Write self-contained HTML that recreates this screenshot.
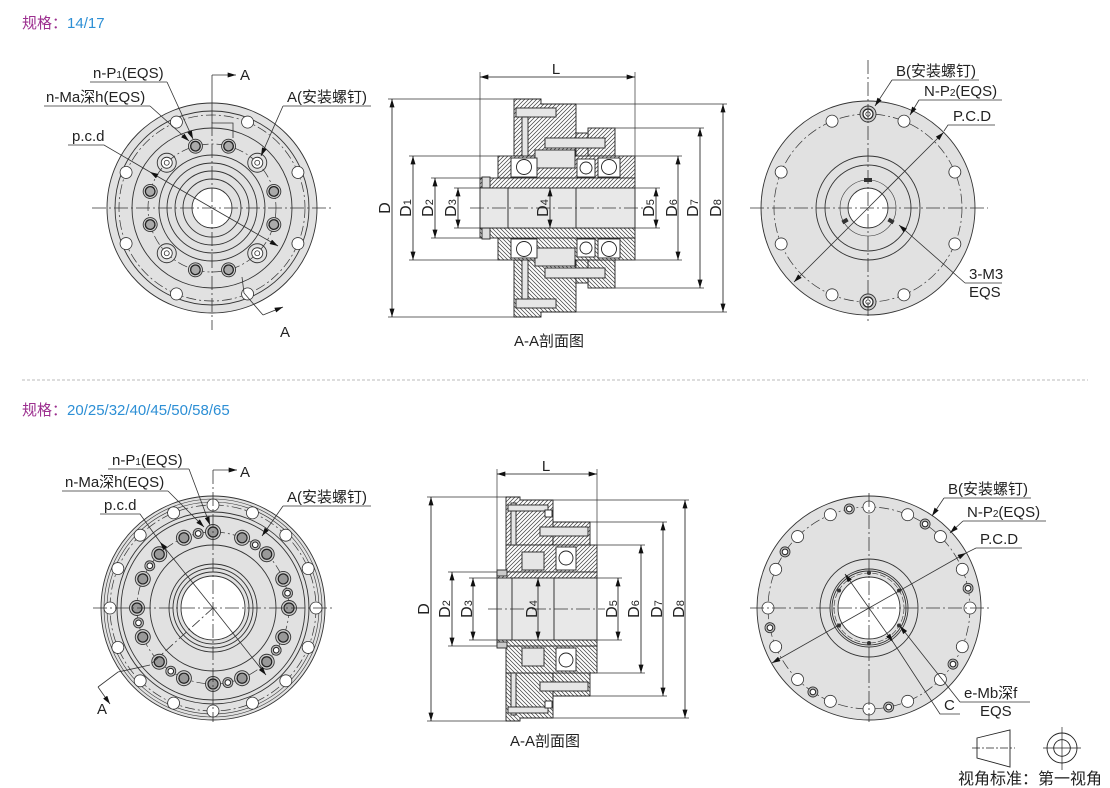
<!DOCTYPE html>
<html><head><meta charset="utf-8">
<style>
html,body{margin:0;padding:0;background:#fff}
svg{display:block}
text{font-family:"Liberation Sans","Noto Sans CJK SC",sans-serif;fill:#222}
</style></head>
<body>
<svg width="1110" height="788" viewBox="0 0 1110 788" xmlns="http://www.w3.org/2000/svg">
<defs>
<pattern id="h" width="4" height="4" patternUnits="userSpaceOnUse"><rect width="4" height="4" fill="#fff"/><path d="M-1,1 L1,-1 M0,4 L4,0 M3,5 L5,3" stroke="#444" stroke-width="0.75"/></pattern>
<marker id="a" viewBox="0 0 10 6" refX="10" refY="3" markerWidth="9" markerHeight="5" markerUnits="userSpaceOnUse" orient="auto-start-reverse"><path d="M0,0 L10,3 L0,6z" fill="#111"/></marker>
<g id="ph"><circle r="6" fill="#fff" stroke="#333" stroke-width="0.8"/></g>
<g id="th"><circle r="7" fill="#d0d0d0" stroke="#333" stroke-width="0.9"/><circle r="4.8" fill="#aaa" stroke="#222" stroke-width="1.3"/></g>
<g id="cs"><circle r="9.5" fill="none" stroke="#333" stroke-width="0.9"/><circle r="5.5" fill="#fff" stroke="#333" stroke-width="0.9"/><circle r="2.5" fill="none" stroke="#333" stroke-width="0.8"/></g>
<g id="bs"><circle r="8" fill="#ccc" stroke="#333" stroke-width="0.9"/><circle r="5" fill="#fff" stroke="#222" stroke-width="1.2"/><circle r="2.2" fill="none" stroke="#333" stroke-width="0.8"/></g>
<g id="sm"><circle r="5" fill="#bbb" stroke="#333" stroke-width="0.9"/><circle r="2.8" fill="#fff" stroke="#222" stroke-width="1"/></g>
<g id="tb"><circle r="7.5" fill="#ccc" stroke="#333" stroke-width="0.9"/><circle r="5" fill="#999" stroke="#222" stroke-width="1.2"/></g>
</defs>

<!-- Titles -->
<text x="22" y="28" font-size="15"><tspan fill="#9c2f8f">规格：</tspan><tspan fill="#2d8fd5">14/17</tspan></text>
<line x1="22" y1="380" x2="1088" y2="380" stroke="#bbb" stroke-width="1" stroke-dasharray="3 2"/>
<text x="22" y="415" font-size="15"><tspan fill="#9c2f8f">规格：</tspan><tspan fill="#2d8fd5">20/25/32/40/45/50/58/65</tspan></text>

<!-- ============ TOP LEFT DISC ============ -->
<g stroke="#333" stroke-width="0.9" fill="none">
<circle cx="212" cy="208" r="105" fill="#e1e1e1"/>
<circle cx="212" cy="208" r="97"/>
<circle cx="212" cy="208" r="93" stroke-dasharray="10 3 2 3" stroke-width="0.7"/>
<circle cx="212" cy="208" r="80"/>
<circle cx="212" cy="208" r="64" stroke-dasharray="10 3 2 3" stroke-width="0.7"/>
<circle cx="212" cy="208" r="53"/>
<circle cx="212" cy="208" r="45"/>
<circle cx="212" cy="208" r="37"/>
<circle cx="212" cy="208" r="29"/>
<circle cx="212" cy="208" r="20" fill="#fff"/>
</g>
<g>
<use href="#ph" transform="rotate(-22.5 212 208) translate(305 208)"/>
<use href="#ph" transform="rotate(-67.5 212 208) translate(305 208)"/>
<use href="#ph" transform="rotate(-112.5 212 208) translate(305 208)"/>
<use href="#ph" transform="rotate(-157.5 212 208) translate(305 208)"/>
<use href="#ph" transform="rotate(-202.5 212 208) translate(305 208)"/>
<use href="#ph" transform="rotate(-247.5 212 208) translate(305 208)"/>
<use href="#ph" transform="rotate(-292.5 212 208) translate(305 208)"/>
<use href="#ph" transform="rotate(-337.5 212 208) translate(305 208)"/>
<use href="#th" transform="rotate(15 212 208) translate(276 208)"/>
<use href="#th" transform="rotate(75 212 208) translate(276 208)"/>
<use href="#th" transform="rotate(105 212 208) translate(276 208)"/>
<use href="#th" transform="rotate(165 212 208) translate(276 208)"/>
<use href="#th" transform="rotate(195 212 208) translate(276 208)"/>
<use href="#th" transform="rotate(255 212 208) translate(276 208)"/>
<use href="#th" transform="rotate(285 212 208) translate(276 208)"/>
<use href="#th" transform="rotate(345 212 208) translate(276 208)"/>
<use href="#cs" transform="rotate(45 212 208) translate(276 208)"/>
<use href="#cs" transform="rotate(135 212 208) translate(276 208)"/>
<use href="#cs" transform="rotate(225 212 208) translate(276 208)"/>
<use href="#cs" transform="rotate(315 212 208) translate(276 208)"/>
</g>
<g stroke="#333" stroke-width="0.8" fill="none">
<line x1="92" y1="208" x2="333" y2="208" stroke-dasharray="14 3 2 3"/>
<line x1="212" y1="122" x2="212" y2="330" stroke-dasharray="14 3 2 3"/>
<polyline points="212,75 212,123 233,123 233,138"/>
<line x1="212" y1="75" x2="236" y2="75" marker-end="url(#a)"/>
<polyline points="242,277 244,293 263,315" />
<line x1="263" y1="315" x2="283" y2="307" marker-end="url(#a)"/>
<polyline points="90,82 167,82"/>
<line x1="167" y1="82" x2="193" y2="139" marker-end="url(#a)"/>
<polyline points="44,106 150,106"/>
<line x1="150" y1="106" x2="189" y2="141" marker-end="url(#a)"/>
<polyline points="68,145 104,145 150,172"/>
<line x1="212" y1="208" x2="150" y2="172" marker-end="url(#a)"/>
<line x1="212" y1="208" x2="278" y2="246" marker-end="url(#a)"/>
<polyline points="371,106 283,106"/>
<line x1="283" y1="106" x2="261" y2="156" marker-end="url(#a)"/>
</g>
<text x="93" y="78" font-size="15">n-P<tspan font-size="10">1</tspan>(EQS)</text>
<text x="46" y="102" font-size="15">n-Ma深h(EQS)</text>
<text x="72" y="141" font-size="15">p.c.d</text>
<text x="287" y="102" font-size="15">A(安装螺钉)</text>
<text x="240" y="80" font-size="15">A</text>
<text x="280" y="337" font-size="15">A</text>

<!-- ============ TOP SECTION ============ -->
<g stroke="#222" stroke-width="0.9">
<g id="secTopHalf">
<path d="M514,99 H541 V104 H576 V156 H514 Z" fill="url(#h)"/>
<rect x="588" y="128" width="27" height="28" fill="url(#h)"/>
<rect x="576" y="133" width="12" height="23" fill="url(#h)"/>
<rect x="498" y="156" width="137" height="22" fill="url(#h)"/>
<rect x="480" y="178" width="155" height="10" fill="url(#h)"/>
<rect x="516" y="108" width="40" height="9" fill="#e6e6e6"/>
<rect x="522" y="117" width="6" height="39" fill="#e6e6e6"/>
<rect x="545" y="138" width="60" height="10" fill="#e6e6e6"/>
<rect x="535" y="150" width="40" height="18" fill="#e6e6e6"/>
<rect x="511" y="158" width="26" height="19" fill="#fff"/>
<circle cx="524" cy="167" r="7.5" fill="#fff"/>
<rect x="577" y="159" width="18" height="18" fill="#fff"/>
<circle cx="586" cy="168" r="6" fill="#fff"/>
<rect x="598" y="158" width="22" height="19" fill="#fff"/>
<circle cx="609" cy="167" r="7.5" fill="#fff"/>
<rect x="482" y="177" width="8" height="11" fill="#ddd"/>
</g>
<use href="#secTopHalf" transform="matrix(1 0 0 -1 0 416)"/>
<rect x="480" y="188" width="155" height="40" fill="#e8e8e8"/>
<line x1="508" y1="188" x2="508" y2="228"/>
<line x1="576" y1="188" x2="576" y2="228"/>
</g>
<g stroke="#333" stroke-width="0.7" fill="none">
<line x1="470" y1="208" x2="645" y2="208" stroke-dasharray="14 3 2 3"/>
<line x1="480" y1="72" x2="480" y2="178"/>
<line x1="635" y1="72" x2="635" y2="156"/>
<line x1="388" y1="99" x2="514" y2="99"/>
<line x1="388" y1="317" x2="514" y2="317"/>
<line x1="409" y1="156" x2="498" y2="156"/>
<line x1="409" y1="260" x2="498" y2="260"/>
<line x1="431" y1="178" x2="480" y2="178"/>
<line x1="431" y1="238" x2="480" y2="238"/>
<line x1="454" y1="188" x2="480" y2="188"/>
<line x1="454" y1="228" x2="480" y2="228"/>
<line x1="635" y1="188" x2="660" y2="188"/>
<line x1="635" y1="228" x2="660" y2="228"/>
<line x1="635" y1="156" x2="682" y2="156"/>
<line x1="635" y1="260" x2="682" y2="260"/>
<line x1="615" y1="128" x2="704" y2="128"/>
<line x1="615" y1="288" x2="704" y2="288"/>
<line x1="576" y1="104" x2="727" y2="104"/>
<line x1="576" y1="312" x2="727" y2="312"/>
</g>
<g stroke="#111" stroke-width="0.8" fill="none">
<line x1="480" y1="77" x2="635" y2="77" marker-start="url(#a)" marker-end="url(#a)"/>
<line x1="392" y1="99" x2="392" y2="317" marker-start="url(#a)" marker-end="url(#a)"/>
<line x1="413" y1="156" x2="413" y2="260" marker-start="url(#a)" marker-end="url(#a)"/>
<line x1="435" y1="178" x2="435" y2="238" marker-start="url(#a)" marker-end="url(#a)"/>
<line x1="458" y1="188" x2="458" y2="228" marker-start="url(#a)" marker-end="url(#a)"/>
<line x1="550" y1="188" x2="550" y2="228" marker-start="url(#a)" marker-end="url(#a)"/>
<line x1="656" y1="188" x2="656" y2="228" marker-start="url(#a)" marker-end="url(#a)"/>
<line x1="678" y1="156" x2="678" y2="260" marker-start="url(#a)" marker-end="url(#a)"/>
<line x1="700" y1="128" x2="700" y2="288" marker-start="url(#a)" marker-end="url(#a)"/>
<line x1="723" y1="104" x2="723" y2="312" marker-start="url(#a)" marker-end="url(#a)"/>
</g>
<text x="556" y="74" font-size="15" text-anchor="middle">L</text>
<g font-size="16" text-anchor="middle">
<text transform="translate(390,208) rotate(-90)">D</text>
<text transform="translate(411,208) rotate(-90)">D<tspan font-size="11">1</tspan></text>
<text transform="translate(433,208) rotate(-90)">D<tspan font-size="11">2</tspan></text>
<text transform="translate(456,208) rotate(-90)">D<tspan font-size="11">3</tspan></text>
<text transform="translate(548,208) rotate(-90)">D<tspan font-size="11">4</tspan></text>
<text transform="translate(654,208) rotate(-90)">D<tspan font-size="11">5</tspan></text>
<text transform="translate(677,208) rotate(-90)">D<tspan font-size="11">6</tspan></text>
<text transform="translate(698,208) rotate(-90)">D<tspan font-size="11">7</tspan></text>
<text transform="translate(721,208) rotate(-90)">D<tspan font-size="11">8</tspan></text>
</g>
<text x="549" y="346" font-size="15" text-anchor="middle">A-A剖面图</text>

<!-- ============ TOP RIGHT DISC ============ -->
<g stroke="#333" stroke-width="0.9" fill="none">
<circle cx="868" cy="208" r="107" fill="#e1e1e1"/>
<circle cx="868" cy="208" r="94" stroke-dasharray="10 3 2 3" stroke-width="0.7"/>
<circle cx="868" cy="208" r="52"/>
<circle cx="868" cy="208" r="43"/>
<circle cx="868" cy="208" r="28" stroke-width="0.6"/>
<circle cx="868" cy="208" r="20" fill="#fff"/>
</g>
<g>
<use href="#ph" transform="rotate(-22.5 868 208) translate(962 208)"/>
<use href="#ph" transform="rotate(-67.5 868 208) translate(962 208)"/>
<use href="#ph" transform="rotate(-112.5 868 208) translate(962 208)"/>
<use href="#ph" transform="rotate(-157.5 868 208) translate(962 208)"/>
<use href="#ph" transform="rotate(-202.5 868 208) translate(962 208)"/>
<use href="#ph" transform="rotate(-247.5 868 208) translate(962 208)"/>
<use href="#ph" transform="rotate(-292.5 868 208) translate(962 208)"/>
<use href="#ph" transform="rotate(-337.5 868 208) translate(962 208)"/>
<use href="#bs" transform="translate(868 114)"/>
<use href="#bs" transform="translate(868 302)"/>
</g>
<g fill="#333">
<rect x="864" y="178" width="8" height="4"/>
<rect x="842" y="219" width="6" height="4" transform="rotate(-30 845 221)"/>
<rect x="888" y="219" width="6" height="4" transform="rotate(30 891 221)"/>
</g>
<g stroke="#333" stroke-width="0.8" fill="none">
<line x1="750" y1="208" x2="988" y2="208" stroke-dasharray="14 3 2 3"/>
<line x1="868" y1="60" x2="868" y2="322" stroke-dasharray="14 3 2 3"/>
<polyline points="979,80 892,80"/>
<line x1="892" y1="80" x2="875" y2="106" marker-end="url(#a)"/>
<polyline points="1002,100 919,100"/>
<line x1="919" y1="100" x2="910" y2="115" marker-end="url(#a)"/>
<polyline points="995,125 948,125 944,131"/>
<line x1="868" y1="208" x2="943.5" y2="132.5" marker-end="url(#a)"/>
<line x1="868" y1="208" x2="794" y2="282" marker-end="url(#a)"/>
<polyline points="1002,283 965,283"/>
<line x1="965" y1="283" x2="899" y2="225" marker-end="url(#a)"/>
</g>
<text x="896" y="76" font-size="15">B(安装螺钉)</text>
<text x="924" y="96" font-size="15">N-P<tspan font-size="10">2</tspan>(EQS)</text>
<text x="953" y="121" font-size="15">P.C.D</text>
<text x="969" y="279" font-size="15">3-M3</text>
<text x="969" y="297" font-size="15">EQS</text>

<!-- ============ BOTTOM LEFT DISC ============ -->
<g stroke="#333" stroke-width="0.9" fill="none">
<circle cx="213" cy="608" r="112" fill="#e1e1e1"/>
<circle cx="213" cy="608" r="109" stroke-width="0.6"/>
<circle cx="213" cy="608" r="106" stroke-width="0.6"/>
<circle cx="213" cy="608" r="103" stroke-dasharray="10 3 2 3" stroke-width="0.7"/>
<circle cx="213" cy="608" r="96"/>
<circle cx="213" cy="608" r="92"/>
<circle cx="213" cy="608" r="76" stroke-dasharray="10 3 2 3" stroke-width="0.7"/>
<circle cx="213" cy="608" r="63"/>
<circle cx="213" cy="608" r="44"/>
<circle cx="213" cy="608" r="40"/>
<circle cx="213" cy="608" r="36"/>
<circle cx="213" cy="608" r="32" fill="#fff"/>
</g>
<g>
<use href="#ph" transform="rotate(0 213 608) translate(316 608)"/>
<use href="#ph" transform="rotate(22.5 213 608) translate(316 608)"/>
<use href="#ph" transform="rotate(45 213 608) translate(316 608)"/>
<use href="#ph" transform="rotate(67.5 213 608) translate(316 608)"/>
<use href="#ph" transform="rotate(90 213 608) translate(316 608)"/>
<use href="#ph" transform="rotate(112.5 213 608) translate(316 608)"/>
<use href="#ph" transform="rotate(135 213 608) translate(316 608)"/>
<use href="#ph" transform="rotate(157.5 213 608) translate(316 608)"/>
<use href="#ph" transform="rotate(180 213 608) translate(316 608)"/>
<use href="#ph" transform="rotate(202.5 213 608) translate(316 608)"/>
<use href="#ph" transform="rotate(225 213 608) translate(316 608)"/>
<use href="#ph" transform="rotate(247.5 213 608) translate(316 608)"/>
<use href="#ph" transform="rotate(270 213 608) translate(316 608)"/>
<use href="#ph" transform="rotate(292.5 213 608) translate(316 608)"/>
<use href="#ph" transform="rotate(315 213 608) translate(316 608)"/>
<use href="#ph" transform="rotate(337.5 213 608) translate(316 608)"/>
<use href="#tb" transform="rotate(0 213 608) translate(289 608)"/>
<use href="#tb" transform="rotate(22.5 213 608) translate(289 608)"/>
<use href="#tb" transform="rotate(45 213 608) translate(289 608)"/>
<use href="#tb" transform="rotate(67.5 213 608) translate(289 608)"/>
<use href="#tb" transform="rotate(90 213 608) translate(289 608)"/>
<use href="#tb" transform="rotate(112.5 213 608) translate(289 608)"/>
<use href="#tb" transform="rotate(135 213 608) translate(289 608)"/>
<use href="#tb" transform="rotate(157.5 213 608) translate(289 608)"/>
<use href="#tb" transform="rotate(180 213 608) translate(289 608)"/>
<use href="#tb" transform="rotate(202.5 213 608) translate(289 608)"/>
<use href="#tb" transform="rotate(225 213 608) translate(289 608)"/>
<use href="#tb" transform="rotate(247.5 213 608) translate(289 608)"/>
<use href="#tb" transform="rotate(270 213 608) translate(289 608)"/>
<use href="#tb" transform="rotate(292.5 213 608) translate(289 608)"/>
<use href="#tb" transform="rotate(315 213 608) translate(289 608)"/>
<use href="#tb" transform="rotate(337.5 213 608) translate(289 608)"/>
<use href="#sm" transform="rotate(-11.25 213 608) translate(289 608)"/>
<use href="#sm" transform="rotate(-56.25 213 608) translate(289 608)"/>
<use href="#sm" transform="rotate(-101.25 213 608) translate(289 608)"/>
<use href="#sm" transform="rotate(-146.25 213 608) translate(289 608)"/>
<use href="#sm" transform="rotate(-191.25 213 608) translate(289 608)"/>
<use href="#sm" transform="rotate(-236.25 213 608) translate(289 608)"/>
<use href="#sm" transform="rotate(-281.25 213 608) translate(289 608)"/>
<use href="#sm" transform="rotate(-326.25 213 608) translate(289 608)"/>
</g>
<g stroke="#333" stroke-width="0.8" fill="none">
<line x1="93" y1="608" x2="333" y2="608" stroke-dasharray="14 3 2 3"/>
<line x1="213" y1="470" x2="213" y2="722" stroke-dasharray="14 3 2 3"/>
<line x1="213" y1="470" x2="237" y2="470" marker-end="url(#a)"/>
<line x1="213" y1="608" x2="150" y2="665" stroke-dasharray="10 3 2 3"/>
<polyline points="150,665 118,672 98,687"/>
<line x1="98" y1="687" x2="110" y2="704" marker-end="url(#a)"/>
<polyline points="108,469 189,469"/>
<line x1="189" y1="469" x2="210" y2="525" marker-end="url(#a)"/>
<polyline points="62,491 168,491"/>
<line x1="168" y1="491" x2="204" y2="527" marker-end="url(#a)"/>
<polyline points="100,514 140,514 160,542"/>
<line x1="213" y1="608" x2="160" y2="542" marker-end="url(#a)"/>
<line x1="213" y1="608" x2="266" y2="675" marker-end="url(#a)"/>
<polyline points="371,506 283,506"/>
<line x1="283" y1="506" x2="262" y2="536" marker-end="url(#a)"/>
</g>
<text x="112" y="465" font-size="15">n-P<tspan font-size="10">1</tspan>(EQS)</text>
<text x="65" y="487" font-size="15">n-Ma深h(EQS)</text>
<text x="104" y="510" font-size="15">p.c.d</text>
<text x="287" y="502" font-size="15">A(安装螺钉)</text>
<text x="240" y="477" font-size="15">A</text>
<text x="97" y="714" font-size="15">A</text>

<!-- ============ BOTTOM SECTION ============ -->
<g stroke="#222" stroke-width="0.9">
<g id="secBotHalf">
<path d="M506,497 H520 V500 H553 V545 H506 Z" fill="url(#h)"/>
<path d="M553,522 H590 V545 H553 Z" fill="url(#h)"/>
<rect x="506" y="545" width="91" height="27" fill="url(#h)"/>
<rect x="497" y="572" width="100" height="6" fill="url(#h)"/>
<rect x="511" y="503" width="5" height="42" fill="#e6e6e6"/>
<rect x="508" y="505" width="40" height="6" fill="#e6e6e6"/>
<rect x="540" y="527" width="48" height="9" fill="#e6e6e6"/>
<rect x="556" y="547" width="20" height="23" fill="#fff"/>
<circle cx="566" cy="558" r="7" fill="#fff"/>
<rect x="522" y="552" width="22" height="18" fill="#e6e6e6"/>
<rect x="545" y="510" width="7" height="7" fill="#fff"/>
<rect x="497" y="570" width="10" height="6" fill="#ccc"/>
</g>
<use href="#secBotHalf" transform="matrix(1 0 0 -1 0 1218)"/>
<rect x="497" y="578" width="100" height="62" fill="#e8e8e8"/>
<line x1="512" y1="578" x2="512" y2="640"/>
<line x1="554" y1="578" x2="554" y2="640"/>
</g>
<g stroke="#333" stroke-width="0.7" fill="none">
<line x1="488" y1="609" x2="605" y2="609" stroke-dasharray="14 3 2 3"/>
<line x1="497" y1="469" x2="497" y2="572"/>
<line x1="597" y1="469" x2="597" y2="545"/>
<line x1="427" y1="497" x2="506" y2="497"/>
<line x1="427" y1="721" x2="506" y2="721"/>
<line x1="448" y1="572" x2="497" y2="572"/>
<line x1="448" y1="646" x2="497" y2="646"/>
<line x1="469" y1="578" x2="497" y2="578"/>
<line x1="469" y1="640" x2="497" y2="640"/>
<line x1="597" y1="578" x2="622" y2="578"/>
<line x1="597" y1="640" x2="622" y2="640"/>
<line x1="597" y1="545" x2="645" y2="545"/>
<line x1="597" y1="673" x2="645" y2="673"/>
<line x1="590" y1="522" x2="667" y2="522"/>
<line x1="590" y1="696" x2="667" y2="696"/>
<line x1="553" y1="500" x2="689" y2="500"/>
<line x1="553" y1="718" x2="689" y2="718"/>
</g>
<g stroke="#111" stroke-width="0.8" fill="none">
<line x1="497" y1="474" x2="597" y2="474" marker-start="url(#a)" marker-end="url(#a)"/>
<line x1="431" y1="497" x2="431" y2="721" marker-start="url(#a)" marker-end="url(#a)"/>
<line x1="452" y1="572" x2="452" y2="646" marker-start="url(#a)" marker-end="url(#a)"/>
<line x1="473" y1="578" x2="473" y2="640" marker-start="url(#a)" marker-end="url(#a)"/>
<line x1="538" y1="578" x2="538" y2="640" marker-start="url(#a)" marker-end="url(#a)"/>
<line x1="618" y1="578" x2="618" y2="640" marker-start="url(#a)" marker-end="url(#a)"/>
<line x1="641" y1="545" x2="641" y2="673" marker-start="url(#a)" marker-end="url(#a)"/>
<line x1="663" y1="522" x2="663" y2="696" marker-start="url(#a)" marker-end="url(#a)"/>
<line x1="685" y1="500" x2="685" y2="718" marker-start="url(#a)" marker-end="url(#a)"/>
</g>
<text x="546" y="471" font-size="15" text-anchor="middle">L</text>
<g font-size="16" text-anchor="middle">
<text transform="translate(429,609) rotate(-90)">D</text>
<text transform="translate(450,609) rotate(-90)">D<tspan font-size="11">2</tspan></text>
<text transform="translate(472,609) rotate(-90)">D<tspan font-size="11">3</tspan></text>
<text transform="translate(537,609) rotate(-90)">D<tspan font-size="11">4</tspan></text>
<text transform="translate(617,609) rotate(-90)">D<tspan font-size="11">5</tspan></text>
<text transform="translate(639,609) rotate(-90)">D<tspan font-size="11">6</tspan></text>
<text transform="translate(662,609) rotate(-90)">D<tspan font-size="11">7</tspan></text>
<text transform="translate(684,609) rotate(-90)">D<tspan font-size="11">8</tspan></text>
</g>
<text x="545" y="746" font-size="15" text-anchor="middle">A-A剖面图</text>

<!-- ============ BOTTOM RIGHT DISC ============ -->
<g stroke="#333" stroke-width="0.9" fill="none">
<circle cx="869" cy="608" r="112" fill="#e1e1e1"/>
<circle cx="869" cy="608" r="101" stroke-dasharray="10 3 2 3" stroke-width="0.7"/>
<circle cx="869" cy="608" r="49"/>
<circle cx="869" cy="608" r="39"/>
<circle cx="869" cy="608" r="37"/>
<circle cx="869" cy="608" r="35" stroke-dasharray="6 2" stroke-width="0.6"/>
<circle cx="869" cy="608" r="31" fill="#fff"/>
</g>
<g>
<use href="#ph" transform="rotate(0 869 608) translate(970 608)"/>
<use href="#ph" transform="rotate(22.5 869 608) translate(970 608)"/>
<use href="#ph" transform="rotate(45 869 608) translate(970 608)"/>
<use href="#ph" transform="rotate(67.5 869 608) translate(970 608)"/>
<use href="#ph" transform="rotate(90 869 608) translate(970 608)"/>
<use href="#ph" transform="rotate(112.5 869 608) translate(970 608)"/>
<use href="#ph" transform="rotate(135 869 608) translate(970 608)"/>
<use href="#ph" transform="rotate(157.5 869 608) translate(970 608)"/>
<use href="#ph" transform="rotate(180 869 608) translate(970 608)"/>
<use href="#ph" transform="rotate(202.5 869 608) translate(970 608)"/>
<use href="#ph" transform="rotate(225 869 608) translate(970 608)"/>
<use href="#ph" transform="rotate(247.5 869 608) translate(970 608)"/>
<use href="#ph" transform="rotate(270 869 608) translate(970 608)"/>
<use href="#ph" transform="rotate(292.5 869 608) translate(970 608)"/>
<use href="#ph" transform="rotate(315 869 608) translate(970 608)"/>
<use href="#ph" transform="rotate(337.5 869 608) translate(970 608)"/>
<use href="#sm" transform="rotate(-11.25 869 608) translate(970 608)"/>
<use href="#sm" transform="rotate(-56.25 869 608) translate(970 608)"/>
<use href="#sm" transform="rotate(-101.25 869 608) translate(970 608)"/>
<use href="#sm" transform="rotate(-146.25 869 608) translate(970 608)"/>
<use href="#sm" transform="rotate(-191.25 869 608) translate(970 608)"/>
<use href="#sm" transform="rotate(-236.25 869 608) translate(970 608)"/>
<use href="#sm" transform="rotate(-281.25 869 608) translate(970 608)"/>
<use href="#sm" transform="rotate(-326.25 869 608) translate(970 608)"/>
</g>
<g fill="#333">
<circle cx="869" cy="573" r="2"/>
<circle cx="869" cy="643" r="2"/>
<circle cx="899" cy="590.5" r="2"/>
<circle cx="899" cy="625.5" r="2"/>
<circle cx="839" cy="590.5" r="2"/>
<circle cx="839" cy="625.5" r="2"/>
</g>
<g stroke="#333" stroke-width="0.8" fill="none">
<line x1="750" y1="608" x2="990" y2="608" stroke-dasharray="14 3 2 3"/>
<line x1="869" y1="493" x2="869" y2="722" stroke-dasharray="14 3 2 3"/>
<polyline points="1031,498 944,498"/>
<line x1="944" y1="498" x2="932" y2="516" marker-end="url(#a)"/>
<polyline points="1046,521 963,521"/>
<line x1="963" y1="521" x2="950" y2="533" marker-end="url(#a)"/>
<polyline points="1022,548 976,548 966,553"/>
<line x1="869" y1="608" x2="966" y2="553" marker-end="url(#a)"/>
<line x1="869" y1="608" x2="772" y2="663" marker-end="url(#a)"/>
<polyline points="1030,702 960,702"/>
<line x1="960" y1="702" x2="900" y2="626" marker-end="url(#a)"/>
<polyline points="960,714 940,714 893,642"/>
<line x1="845" y1="574" x2="893" y2="642" marker-start="url(#a)" marker-end="url(#a)"/>
</g>
<text x="948" y="494" font-size="15">B(安装螺钉)</text>
<text x="967" y="517" font-size="15">N-P<tspan font-size="10">2</tspan>(EQS)</text>
<text x="980" y="544" font-size="15">P.C.D</text>
<text x="964" y="698" font-size="15">e-Mb深f</text>
<text x="980" y="716" font-size="15">EQS</text>
<text x="944" y="710" font-size="15">C</text>

<!-- ============ VIEW SYMBOL ============ -->
<g stroke="#222" stroke-width="0.9" fill="none">
<polygon points="977,738 1010,730 1010,767 977,758"/>
<line x1="972" y1="748" x2="1015" y2="748" stroke-dasharray="8 2 2 2" stroke-width="0.7"/>
<circle cx="1062" cy="748" r="15"/>
<circle cx="1062" cy="748" r="8.3"/>
<line x1="1043" y1="748" x2="1081" y2="748" stroke-width="0.7"/>
<line x1="1062" y1="727" x2="1062" y2="770" stroke-width="0.7"/>
</g>
<text x="958" y="784" font-size="16">视角标准：第一视角</text>
</svg>
</body></html>
